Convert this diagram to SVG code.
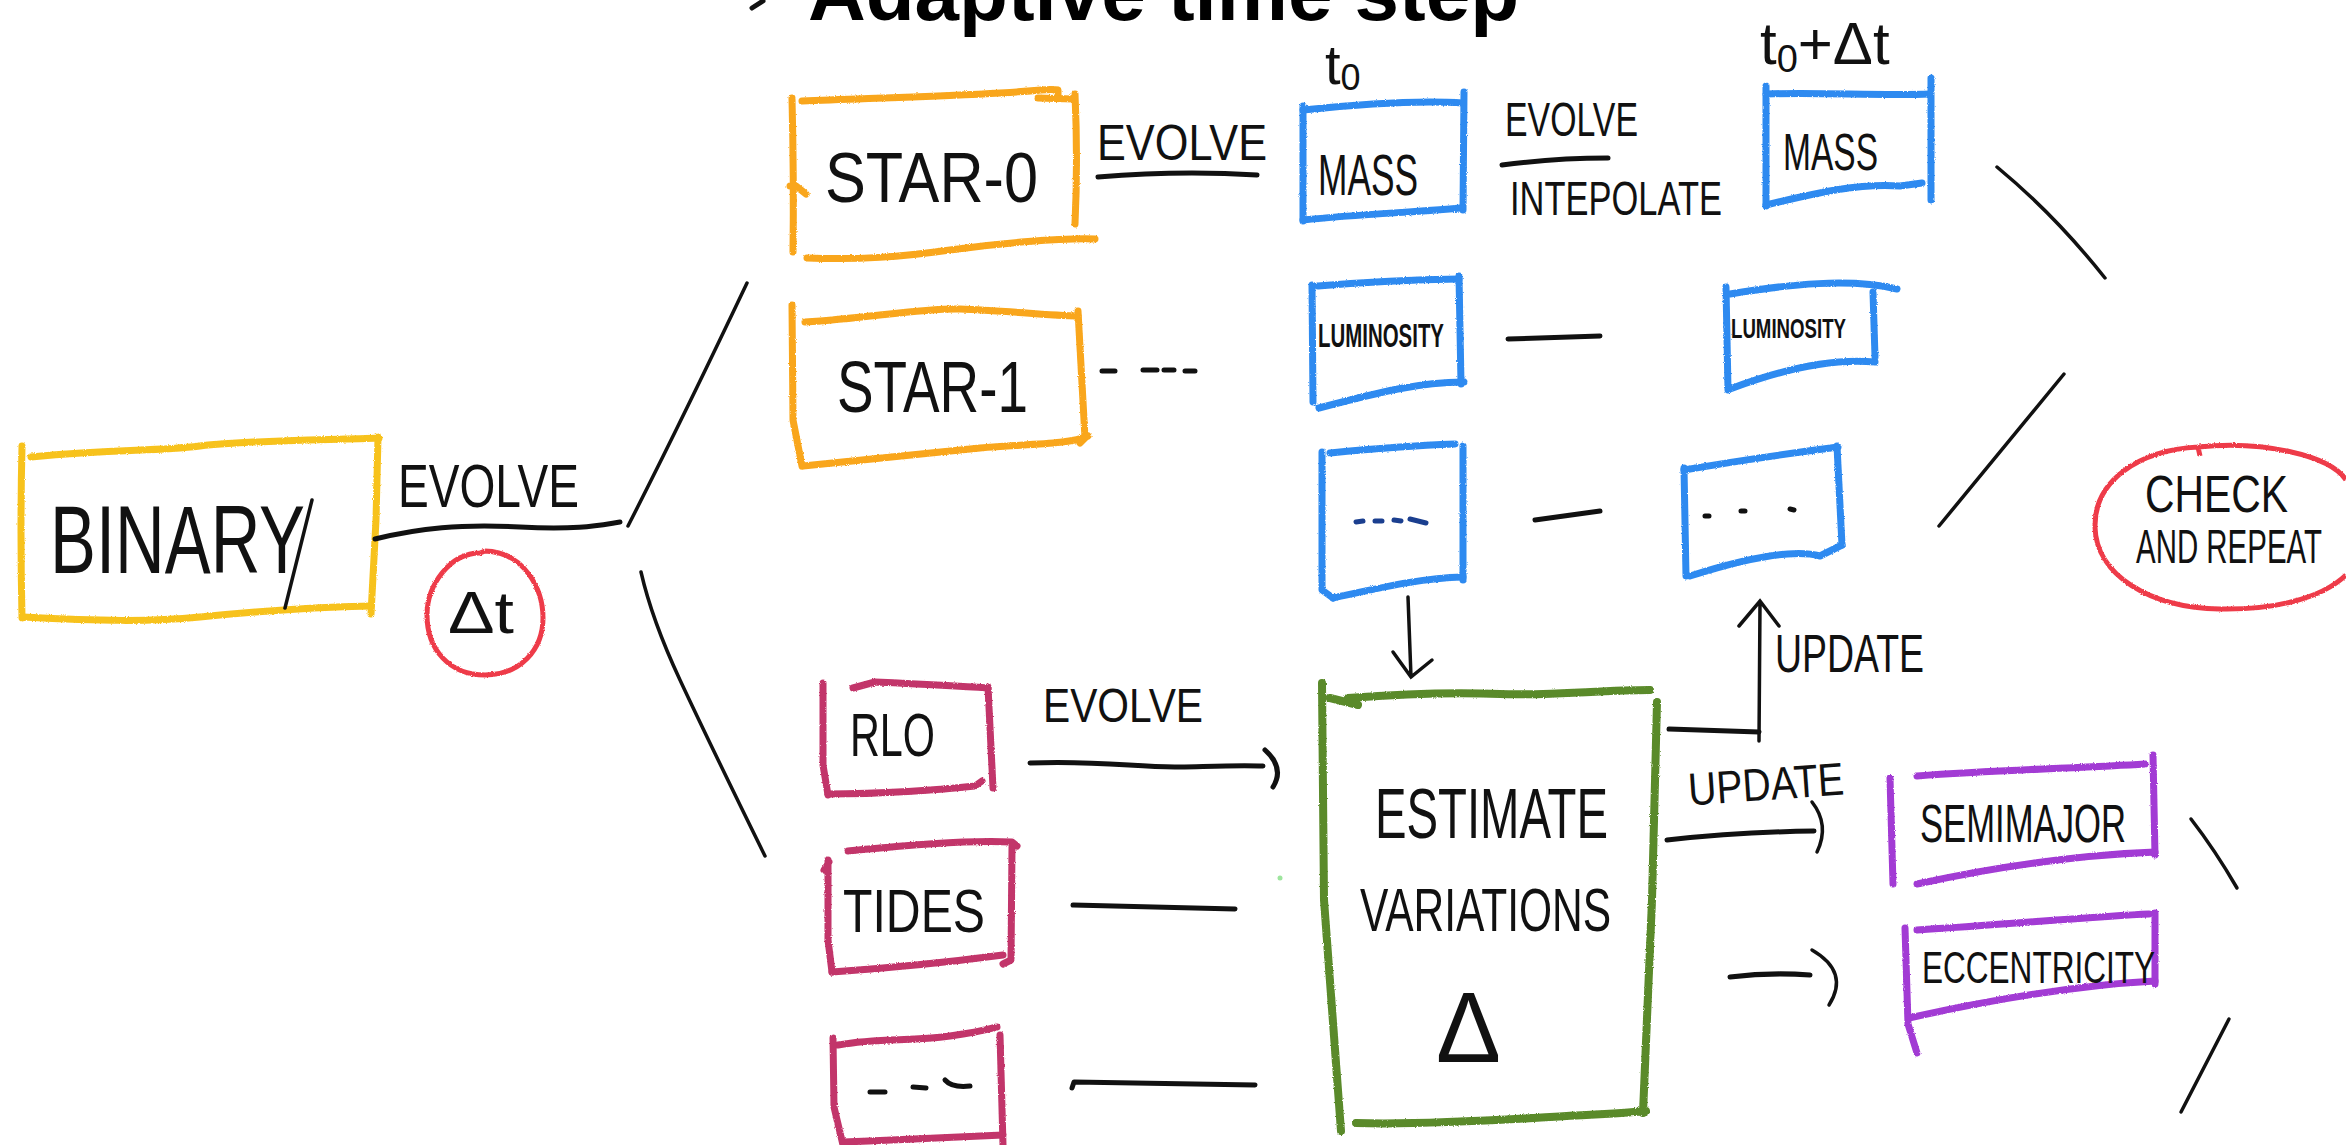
<svg xmlns="http://www.w3.org/2000/svg" width="2346" height="1145" viewBox="0 0 2346 1145">
  <defs>
    <filter id="crayon" filterUnits="userSpaceOnUse" x="0" y="0" width="2346" height="1145">
      <feTurbulence type="fractalNoise" baseFrequency="0.9" numOctaves="2" seed="4" result="noise"/>
      <feDisplacementMap in="SourceGraphic" in2="noise" scale="2.5" xChannelSelector="R" yChannelSelector="G"/>
    </filter>
    <style>
      .box { fill: none; stroke-width: 7; stroke-linecap: round; stroke-linejoin: round; filter: url(#crayon); }
      .yellow { stroke: #F7C21E; }
      .orange { stroke: #F9A61A; }
      .blue { stroke: #2E8AF0; }
      .green { stroke: #5A8A2A; stroke-width: 8; }
      .crimson { stroke: #C2356A; }
      .purple { stroke: #A23AD4; }
      .redring { fill: none; stroke: #EE3B48; stroke-width: 5; filter: url(#crayon); }
      .ink { fill: none; stroke: #111; stroke-width: 5; stroke-linecap: round; stroke-linejoin: round; }
      .thin { fill: none; stroke: #111; stroke-width: 3.5; stroke-linecap: round; }
      .hand { font-family: "Liberation Sans", "DejaVu Sans", sans-serif; fill: #111; }
      .title { font-family: "Liberation Sans", Arial, sans-serif; font-weight: bold; fill: #000; }
    </style>
  </defs>

  <rect width="2346" height="1145" fill="#fff"/>

  <!-- heading -->
  <g id="title">
    <path class="ink" d="M752,8 L763,1" stroke-width="4"/>
    <text class="title" x="808" y="20" font-size="80" textLength="711" lengthAdjust="spacingAndGlyphs">Adaptive time step</text>
  </g>

  <!-- binary system -->
  <g id="binary">
    <path class="box yellow" d="M22,446 Q20,530 22,618"/>
    <path class="box yellow" d="M31,457 C120,448 150,452 200,446 S330,440 379,438"/>
    <path class="box yellow" d="M378,437 L376,520 L371,614"/>
    <path class="box yellow" d="M23,617 C100,621 150,622 200,617 S320,607 371,606"/>
    <text class="hand" x="50" y="573" font-size="96" textLength="255" lengthAdjust="spacingAndGlyphs">BINARY</text>
    <path class="thin" d="M312,500 L285,608"/>
  </g>

  <g id="dt">
    <path class="redring" d="M485,551 C525,552 543,590 543,618 C543,650 520,675 485,675 C450,675 427,650 427,615 C427,585 450,553 480,553 L485,551"/>
    <text class="hand" x="448" y="633" font-size="60" textLength="66" lengthAdjust="spacingAndGlyphs">Δt</text>
  </g>

  <!-- stars -->
  <g id="star0">
    <path class="box orange" d="M802,101 C880,98 950,96 1000,93 S1050,88 1058,90 L1058,95"/>
    <path class="box orange" d="M1038,98 L1073,99"/>
    <path class="box orange" d="M1075,94 Q1078,160 1075,224"/>
    <path class="box orange" d="M792,98 Q794,180 793,252 M790,186 L796,186 L806,194"/>
    <path class="box orange" d="M807,258 C860,260 900,257 950,250 S1060,238 1095,239"/>
    <text class="hand" x="825" y="202" font-size="70" textLength="213" lengthAdjust="spacingAndGlyphs">STAR-0</text>
  </g>

  <g id="star1">
    <path class="box orange" d="M805,322 C870,318 920,308 960,309 S1050,316 1078,316"/>
    <path class="box orange" d="M792,305 L793,420 L802,466"/>
    <path class="box orange" d="M1078,311 Q1082,380 1085,438 L1080,443"/>
    <path class="box orange" d="M803,466 C880,458 940,452 980,448 S1070,445 1088,436"/>
    <text class="hand" x="837" y="412" font-size="72" textLength="191" lengthAdjust="spacingAndGlyphs">STAR-1</text>
  </g>

  <!-- stellar quantities at t0 -->
  <g id="t0-label">
    <text class="hand" x="1325" y="84" font-size="56">t<tspan font-size="36" dy="6">0</tspan></text>
  </g>
  <g id="mass-t0">
    <path class="box blue" d="M1303,106 L1303,221"/>
    <path class="box blue" d="M1303,110 C1360,104 1420,100 1463,103"/>
    <path class="box blue" d="M1464,92 L1463,210"/>
    <path class="box blue" d="M1303,220 C1360,214 1420,212 1460,208"/>
    <text class="hand" x="1318" y="195" font-size="58" textLength="100" lengthAdjust="spacingAndGlyphs">MASS</text>
  </g>
  <g id="lum-t0">
    <path class="box blue" d="M1312,285 L1313,402"/>
    <path class="box blue" d="M1318,286 Q1390,280 1459,279"/>
    <path class="box blue" d="M1459,276 L1461,384"/>
    <path class="box blue" d="M1319,408 C1380,392 1420,382 1464,382"/>
    <text class="hand" x="1318" y="347" font-size="34" font-weight="bold" textLength="126" lengthAdjust="spacingAndGlyphs">LUMINOSITY</text>
  </g>
  <g id="more-t0">
    <path class="box blue" d="M1322,452 L1322,590 L1333,598"/>
    <path class="box blue" d="M1330,453 Q1400,446 1455,444"/>
    <path class="box blue" d="M1463,446 L1463,580"/>
    <path class="box blue" d="M1333,598 C1380,588 1420,578 1463,577"/>
    <path d="M1356,522 L1363,521 M1375,521 L1382,521 M1394,520 L1401,521 M1410,519 L1426,523" fill="none" stroke="#1B3F8F" stroke-width="5" stroke-linecap="round"/>
  </g>

  <!-- stellar quantities at t0 + dt -->
  <g id="t1-label">
    <text class="hand" x="1760" y="64" font-size="60">t<tspan font-size="38" dy="8">0</tspan><tspan dy="-8">+Δt</tspan></text>
  </g>
  <g id="mass-t1">
    <path class="box blue" d="M1766,86 L1766,206"/>
    <path class="box blue" d="M1766,94 C1820,92 1880,96 1930,94"/>
    <path class="box blue" d="M1931,78 L1931,200"/>
    <path class="box blue" d="M1766,205 C1820,192 1860,183 1900,186 L1922,183"/>
    <text class="hand" x="1783" y="170" font-size="52" textLength="95" lengthAdjust="spacingAndGlyphs">MASS</text>
  </g>
  <g id="lum-t1">
    <path class="box blue" d="M1726,287 L1728,390"/>
    <path class="box blue" d="M1730,294 C1790,284 1850,278 1897,289"/>
    <path class="box blue" d="M1873,292 L1875,357"/>
    <path class="box blue" d="M1730,389 C1780,370 1830,358 1875,362"/>
    <text class="hand" x="1731" y="338" font-size="28" font-weight="bold" textLength="115" lengthAdjust="spacingAndGlyphs">LUMINOSITY</text>
  </g>
  <g id="more-t1">
    <path class="box blue" d="M1684,468 L1686,576"/>
    <path class="box blue" d="M1684,470 C1730,462 1800,452 1838,447"/>
    <path class="box blue" d="M1837,446 L1842,545"/>
    <path class="box blue" d="M1690,576 C1740,560 1790,548 1820,556 L1842,545"/>
    <path class="ink" d="M1705,516 L1709,516 M1741,511 L1745,511 M1790,509 L1794,510" stroke-width="4"/>
  </g>

  <!-- binary processes -->
  <g id="rlo">
    <path class="box crimson" d="M823,683 L823,765 L828,795"/>
    <path class="box crimson" d="M853,688 L875,682 C920,684 960,686 988,688"/>
    <path class="box crimson" d="M988,687 L993,788"/>
    <path class="box crimson" d="M828,794 C880,794 940,790 975,786 L982,781"/>
    <text class="hand" x="850" y="756" font-size="62" textLength="85" lengthAdjust="spacingAndGlyphs">RLO</text>
  </g>
  <g id="tides">
    <path class="box crimson" d="M848,851 C900,846 960,840 1012,842 L1017,846"/>
    <path class="box crimson" d="M828,860 L828,940 L832,972 M824,870 L829,862"/>
    <path class="box crimson" d="M1012,847 L1011,960 L1003,964"/>
    <path class="box crimson" d="M832,972 C890,968 950,962 1003,955"/>
    <text class="hand" x="843" y="932" font-size="62" textLength="142" lengthAdjust="spacingAndGlyphs">TIDES</text>
  </g>
  <g id="more-proc">
    <path class="box crimson" d="M838,1045 C880,1037 910,1042 950,1036 S990,1028 997,1027"/>
    <path class="box crimson" d="M833,1038 L834,1107 L843,1145"/>
    <path class="box crimson" d="M1000,1035 L1003,1145"/>
    <path class="box crimson" d="M843,1142 C900,1140 960,1137 1003,1135"/>
    <path class="ink" d="M870,1092 L885,1092 M913,1087 L926,1088 M945,1080 Q952,1088 970,1086"/>
  </g>

  <g id="estimate">
    <path class="box green" d="M1322,683 L1324,900 L1341,1131"/>
    <path class="box green" d="M1330,698 L1358,705 M1348,698 C1400,694 1450,692 1500,694 S1600,690 1650,690"/>
    <path class="box green" d="M1657,702 L1652,900 L1643,1113"/>
    <path class="box green" d="M1356,1123 C1420,1125 1500,1120 1550,1117 S1630,1113 1646,1111"/>
    <text class="hand" x="1375" y="838" font-size="70" textLength="233" lengthAdjust="spacingAndGlyphs">ESTIMATE</text>
    <text class="hand" x="1360" y="931" font-size="62" textLength="251" lengthAdjust="spacingAndGlyphs">VARIATIONS</text>
    <text class="hand" x="1436" y="1062" font-size="100" textLength="65" lengthAdjust="spacingAndGlyphs">Δ</text>
  </g>

  <!-- orbital elements -->
  <g id="semimajor">
    <path class="box purple" d="M1890,778 L1893,884"/>
    <path class="box purple" d="M1917,776 C2000,770 2080,768 2145,764"/>
    <path class="box purple" d="M2153,755 L2155,855"/>
    <path class="box purple" d="M1917,884 C2000,866 2080,855 2155,852"/>
    <text class="hand" x="1920" y="842" font-size="54" textLength="206" lengthAdjust="spacingAndGlyphs">SEMIMAJOR</text>
  </g>
  <g id="eccentricity">
    <path class="box purple" d="M1905,928 L1908,1024 L1917,1053"/>
    <path class="box purple" d="M1917,930 C2000,925 2100,916 2149,914"/>
    <path class="box purple" d="M2155,913 L2155,984"/>
    <path class="box purple" d="M1909,1018 C1990,1000 2080,985 2155,981"/>
    <text class="hand" x="1922" y="983" font-size="44" textLength="233" lengthAdjust="spacingAndGlyphs">ECCENTRICITY</text>
  </g>

  <g id="check">
    <path class="redring" d="M2198,447 C2260,440 2330,455 2346,480 M2346,575 C2320,600 2270,610 2220,609 C2150,608 2096,575 2095,527 C2094,480 2140,450 2198,447 L2200,456"/>
    <text class="hand" x="2145" y="512" font-size="52" textLength="143" lengthAdjust="spacingAndGlyphs">CHECK</text>
    <text class="hand" x="2136" y="563" font-size="48" textLength="186" lengthAdjust="spacingAndGlyphs">AND REPEAT</text>
  </g>

  <!-- connectors and their labels -->
  <g id="connectors">
    <path class="ink" d="M375,539 C420,528 460,524 520,527 S600,525 620,522"/>
    <text class="hand" x="398" y="507" font-size="62" textLength="181" lengthAdjust="spacingAndGlyphs">EVOLVE</text>
    <path class="thin" d="M628,526 Q682,420 747,283"/>
    <path class="thin" d="M641,572 Q652,620 680,680 T765,856"/>

    <text class="hand" x="1097" y="160" font-size="50" textLength="170" lengthAdjust="spacingAndGlyphs">EVOLVE</text>
    <path class="ink" d="M1098,177 Q1180,170 1257,175"/>
    <path class="ink" d="M1102,371 L1115,371 M1143,370 L1157,370 M1164,370 L1174,370 M1185,371 L1195,371" stroke-width="4"/>

    <text class="hand" x="1505" y="136" font-size="48" textLength="133" lengthAdjust="spacingAndGlyphs">EVOLVE</text>
    <path class="ink" d="M1502,165 Q1555,158 1608,158"/>
    <text class="hand" x="1510" y="215" font-size="48" textLength="212" lengthAdjust="spacingAndGlyphs">INTEPOLATE</text>
    <path class="ink" d="M1508,339 L1600,336"/>
    <path class="ink" d="M1535,520 L1600,511"/>

    <path class="thin" d="M1997,167 Q2055,215 2105,278"/>
    <path class="thin" d="M2064,374 L1939,526"/>

    <text class="hand" x="1043" y="722" font-size="48" textLength="160" lengthAdjust="spacingAndGlyphs">EVOLVE</text>
    <path class="ink" d="M1030,763 C1100,760 1140,768 1180,767 S1240,765 1263,766"/>
    <path class="ink" d="M1265,750 Q1285,768 1273,787"/>
    <path class="ink" d="M1073,905 L1235,909"/>
    <path class="ink" d="M1072,1088 L1074,1082 L1255,1085"/>
    <circle cx="1280" cy="878" r="2.5" fill="#9EE59E"/>

    <path class="thin" d="M1408,597 L1411,677 M1393,652 L1411,677 L1432,660"/>

    <path class="ink" d="M1669,729 L1759,732"/>
    <path class="thin" d="M1759,741 L1760,603 M1739,626 L1760,601 L1779,626" stroke-width="4"/>
    <text class="hand" x="1775" y="672" font-size="54" textLength="149" lengthAdjust="spacingAndGlyphs">UPDATE</text>

    <text class="hand" x="1688" y="800" font-size="46" textLength="156" lengthAdjust="spacingAndGlyphs" transform="rotate(-4 1766 785)">UPDATE</text>
    <path class="ink" d="M1667,840 Q1740,832 1814,831"/>
    <path class="thin" d="M1812,802 Q1830,825 1817,852" stroke-width="4"/>
    <path class="ink" d="M1730,977 Q1770,972 1810,975"/>
    <path class="thin" d="M1812,950 Q1850,972 1829,1005" stroke-width="4"/>

    <path class="thin" d="M2191,819 Q2215,850 2237,888"/>
    <path class="thin" d="M2229,1019 L2181,1112"/>
  </g>
</svg>
